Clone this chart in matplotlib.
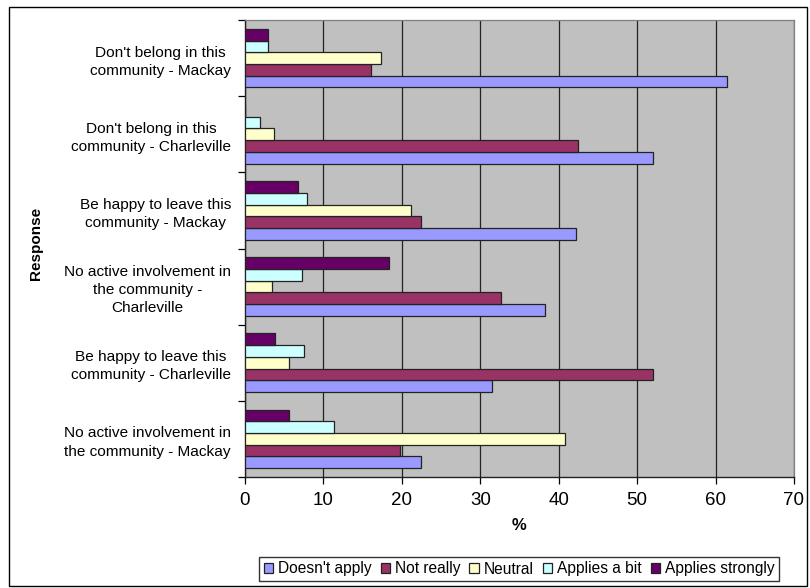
import matplotlib
matplotlib.use("Agg")
import matplotlib.pyplot as plt
import numpy as np
from matplotlib.patches import Rectangle

plt.rcParams['font.family'] = ['Liberation Sans', 'DejaVu Sans']

categories = [
    "Don't belong in this\ncommunity - Mackay",
    "Don't belong in this\ncommunity - Charleville",
    "Be happy to leave this\ncommunity - Mackay",
    "No active involvement in\nthe community -\nCharleville",
    "Be happy to leave this\ncommunity - Charleville",
    "No active involvement in\nthe community - Mackay",
]
series_names = ["Doesn't apply", "Not really", "Neutral", "Applies a bit", "Applies strongly"]
doesnt_apply = [61.4, 52.0, 42.2, 38.3, 31.5, 22.5]
not_really = [16.1, 42.5, 22.4, 32.7, 52.0, 19.8]
neutral = [17.3, 3.7, 21.2, 3.5, 5.6, 40.8]
applies_bit = [2.9, 1.9, 7.9, 7.3, 7.5, 11.4]
applies_strongly = [2.9, 0.0, 6.8, 18.4, 3.8, 5.6]
x_ticks = [0, 10, 20, 30, 40, 50, 60, 70]

series_values = [doesnt_apply, not_really, neutral, applies_bit, applies_strongly]
colors = ["#9999FF", "#993366", "#FFFFCC", "#CCFFFF", "#660066"]

fig = plt.figure(figsize=(8.1, 5.88), dpi=100)
ax = fig.add_axes([245 / 810, 1 - 477 / 588, (794 - 245) / 810, (477 - 20) / 588])
ax.set_facecolor("#C0C0C0")

n_cat = len(categories)
n_ser = len(series_values)
bar_h = 1 / 6.5
# categories listed top to bottom; first series sits lowest in each group
centers = np.arange(n_cat)[::-1] + 0.5
for i, (name, vals, col) in enumerate(zip(series_names, series_values, colors)):
    offs = (i - (n_ser - 1) / 2) * bar_h
    ax.barh(centers + offs, vals, height=bar_h, color=col, edgecolor="#222222",
            linewidth=0.9, label=name, zorder=3)

ax.set_xlim(0, 70)
ax.set_ylim(0, n_cat)
ax.set_xticks(x_ticks)
ax.set_xticklabels([str(t) for t in x_ticks], fontsize=13.5)
ax.xaxis.grid(True, color="#222222", linewidth=0.9, zorder=1)
ax.set_axisbelow(True)

ax.set_yticks(np.arange(n_cat + 1), minor=False)
ax.set_yticklabels([])
ax.set_yticks(centers, minor=True)
ax.set_yticklabels(categories, minor=True, fontsize=11.1, multialignment="center",
                   linespacing=1.38)
ax.tick_params(axis="y", which="minor", length=0, pad=10)
ax.tick_params(axis="y", which="major", length=5, direction="out", width=0.9)
ax.tick_params(axis="x", length=5, direction="out", width=0.9, pad=6)

for side in ("top", "right"):
    ax.spines[side].set_color("#808080")
    ax.spines[side].set_linewidth(0.9)
for side in ("left", "bottom"):
    ax.spines[side].set_color("#222222")
    ax.spines[side].set_linewidth(1.0)

ax.set_xlabel("%", fontsize=12, fontweight="bold", labelpad=6)
fig.text(36 / 810, 1 - 243 / 588, "Response", rotation=90, fontsize=11,
         fontweight="bold", ha="center", va="center")

handles, labels = ax.get_legend_handles_labels()
leg = fig.legend(handles, labels, loc="center", bbox_to_anchor=(519 / 810, 1 - 569 / 588),
                 ncol=5, fontsize=11.2, frameon=True, fancybox=False, edgecolor="black",
                 handlelength=0.6, handleheight=0.6, handletextpad=0.3,
                 columnspacing=0.6, borderpad=0.3, borderaxespad=0)
leg.get_frame().set_linewidth(1.0)

fig.patches.append(Rectangle((9 / 810, 1 - 586 / 588), (807 - 9) / 810, (586 - 7) / 588,
                             transform=fig.transFigure, fill=False,
                             edgecolor="black", linewidth=1.0))

fig.savefig("out.png", dpi=100, facecolor="white")
